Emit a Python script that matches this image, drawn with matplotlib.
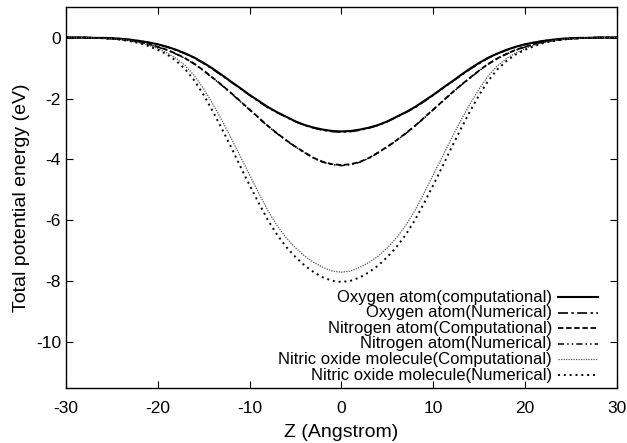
import matplotlib
matplotlib.use("Agg")
import matplotlib.pyplot as plt

plt.rcParams['font.family'] = ['Liberation Sans', 'DejaVu Sans']
plt.rcParams['axes.unicode_minus'] = False

# distance along the axis (Angstrom), step 1
z = list(range(-30, 31))

o_comp = [0.00, 0.00, 0.00, -0.01, -0.01, -0.02, -0.04, -0.07, -0.11, -0.16, -0.22, -0.30, -0.40, -0.52, -0.66,
          -0.83, -1.02, -1.23, -1.45, -1.66, -1.88, -2.08, -2.28, -2.45, -2.60, -2.75, -2.87, -2.955, -3.02, -3.065,
          -3.08,
          -3.065, -3.02, -2.955, -2.87, -2.75, -2.60, -2.45, -2.28, -2.08, -1.88, -1.66, -1.45, -1.23, -1.02, -0.83,
          -0.66, -0.52, -0.40, -0.30, -0.22, -0.16, -0.11, -0.07, -0.04, -0.02, -0.01, -0.01, 0.00, 0.00, 0.00]
o_num = [0.00, 0.00, 0.00, -0.01, -0.01, -0.02, -0.04, -0.07, -0.11, -0.16, -0.22, -0.31, -0.41, -0.53, -0.67,
         -0.85, -1.04, -1.25, -1.46, -1.67, -1.89, -2.10, -2.30, -2.46, -2.61, -2.76, -2.88, -2.97, -3.04, -3.085,
         -3.10,
         -3.085, -3.04, -2.97, -2.88, -2.76, -2.61, -2.46, -2.30, -2.10, -1.89, -1.67, -1.46, -1.25, -1.04, -0.85,
         -0.67, -0.53, -0.41, -0.31, -0.22, -0.16, -0.11, -0.07, -0.04, -0.02, -0.01, -0.01, 0.00, 0.00, 0.00]
n_comp = [0.00, 0.00, 0.00, -0.01, -0.02, -0.04, -0.06, -0.10, -0.15, -0.22, -0.30, -0.40, -0.53, -0.68, -0.86,
          -1.08, -1.32, -1.56, -1.82, -2.09, -2.36, -2.63, -2.90, -3.14, -3.37, -3.58, -3.77, -3.95, -4.08, -4.155,
          -4.18,
          -4.155, -4.08, -3.95, -3.77, -3.58, -3.37, -3.14, -2.90, -2.63, -2.36, -2.09, -1.82, -1.56, -1.32, -1.08,
          -0.86, -0.68, -0.53, -0.40, -0.30, -0.22, -0.15, -0.10, -0.06, -0.04, -0.02, -0.01, 0.00, 0.00, 0.00]
n_num = [0.00, 0.00, 0.00, -0.01, -0.02, -0.04, -0.06, -0.10, -0.15, -0.22, -0.31, -0.41, -0.54, -0.69, -0.87,
         -1.09, -1.33, -1.57, -1.83, -2.10, -2.37, -2.64, -2.91, -3.15, -3.38, -3.59, -3.78, -3.96, -4.09, -4.17,
         -4.20,
         -4.17, -4.09, -3.96, -3.78, -3.59, -3.38, -3.15, -2.91, -2.64, -2.37, -2.10, -1.83, -1.57, -1.33, -1.09,
         -0.87, -0.69, -0.54, -0.41, -0.31, -0.22, -0.15, -0.10, -0.06, -0.04, -0.02, -0.01, 0.00, 0.00, 0.00]
no_comp = [0.00, 0.00, 0.00, -0.01, -0.02, -0.04, -0.06, -0.10, -0.16, -0.25, -0.36, -0.50, -0.68, -0.92, -1.25,
           -1.68, -2.18, -2.72, -3.30, -3.90, -4.50, -5.10, -5.68, -6.17, -6.57, -6.90, -7.17, -7.38, -7.54, -7.66,
           -7.70,
           -7.66, -7.54, -7.38, -7.17, -6.90, -6.57, -6.17, -5.68, -5.10, -4.50, -3.90, -3.30, -2.72, -2.18, -1.68,
           -1.25, -0.92, -0.68, -0.50, -0.36, -0.25, -0.16, -0.10, -0.06, -0.04, -0.02, -0.01, 0.00, 0.00, 0.00]
no_num = [0.00, 0.00, 0.00, -0.01, -0.02, -0.04, -0.07, -0.12, -0.18, -0.28, -0.40, -0.55, -0.76, -1.04, -1.41,
          -1.88, -2.42, -3.00, -3.60, -4.23, -4.84, -5.43, -5.99, -6.47, -6.87, -7.20, -7.48, -7.70, -7.87, -7.98,
          -8.02,
          -7.98, -7.87, -7.70, -7.48, -7.20, -6.87, -6.47, -5.99, -5.43, -4.84, -4.23, -3.60, -3.00, -2.42, -1.88,
          -1.41, -1.04, -0.76, -0.55, -0.40, -0.28, -0.18, -0.12, -0.07, -0.04, -0.02, -0.01, 0.00, 0.00, 0.00]

labels = ["Oxygen atom(computational)", "Oxygen atom(Numerical)",
          "Nitrogen atom(Computational)", "Nitrogen atom(Numerical)",
          "Nitric oxide molecule(Computational)", "Nitric oxide molecule(Numerical)"]
x_ticks = [-30, -20, -10, 0, 10, 20, 30]
y_ticks = [0, -2, -4, -6, -8, -10]

fig = plt.figure(figsize=(6.27, 4.43), dpi=100)
ax = fig.add_axes([0.105, 0.124, 0.879, 0.86])

series = [o_comp, o_num, n_comp, n_num, no_comp, no_num]
styles = [
    dict(color='black', lw=1.5, ls='-'),
    dict(color='black', lw=1.2, ls=(0, (6, 2, 1.5, 2))),
    dict(color='black', lw=1.3, ls=(0, (3, 1.5))),
    dict(color='black', lw=1.1, ls=(0, (4, 2, 1, 2, 1, 2))),
    dict(color='#555555', lw=0.9, ls=(0, (1, 1))),
    dict(color='black', lw=1.4, ls=(0, (1, 2))),
]

for vals, st in zip(series, styles):
    ax.plot(z, vals, **st)

# gnuplot-style key: text right-aligned, sample line to its right
key_y = [0.239, 0.198, 0.157, 0.116, 0.075, 0.034]
for lab, st, ky in zip(labels, styles, key_y):
    ax.text(0.882, ky, lab, transform=ax.transAxes, ha='right', va='center', fontsize=12)
    ax.plot([0.893, 0.966], [ky, ky], transform=ax.transAxes, **st)

ax.set_xlim(-30, 30)
ax.set_ylim(-11.5, 1.0)
ax.set_xticks(x_ticks)
ax.set_yticks(y_ticks)
ax.tick_params(direction='in', top=True, right=True, length=5, labelsize=12.5)
ax.tick_params(axis='x', pad=9)
for s in ax.spines.values():
    s.set_linewidth(1.0)

ax.set_xlabel("Z (Angstrom)", fontsize=14, labelpad=6)
ax.set_ylabel("Total potential energy (eV)", fontsize=14)

fig.savefig("out.png", dpi=100)
